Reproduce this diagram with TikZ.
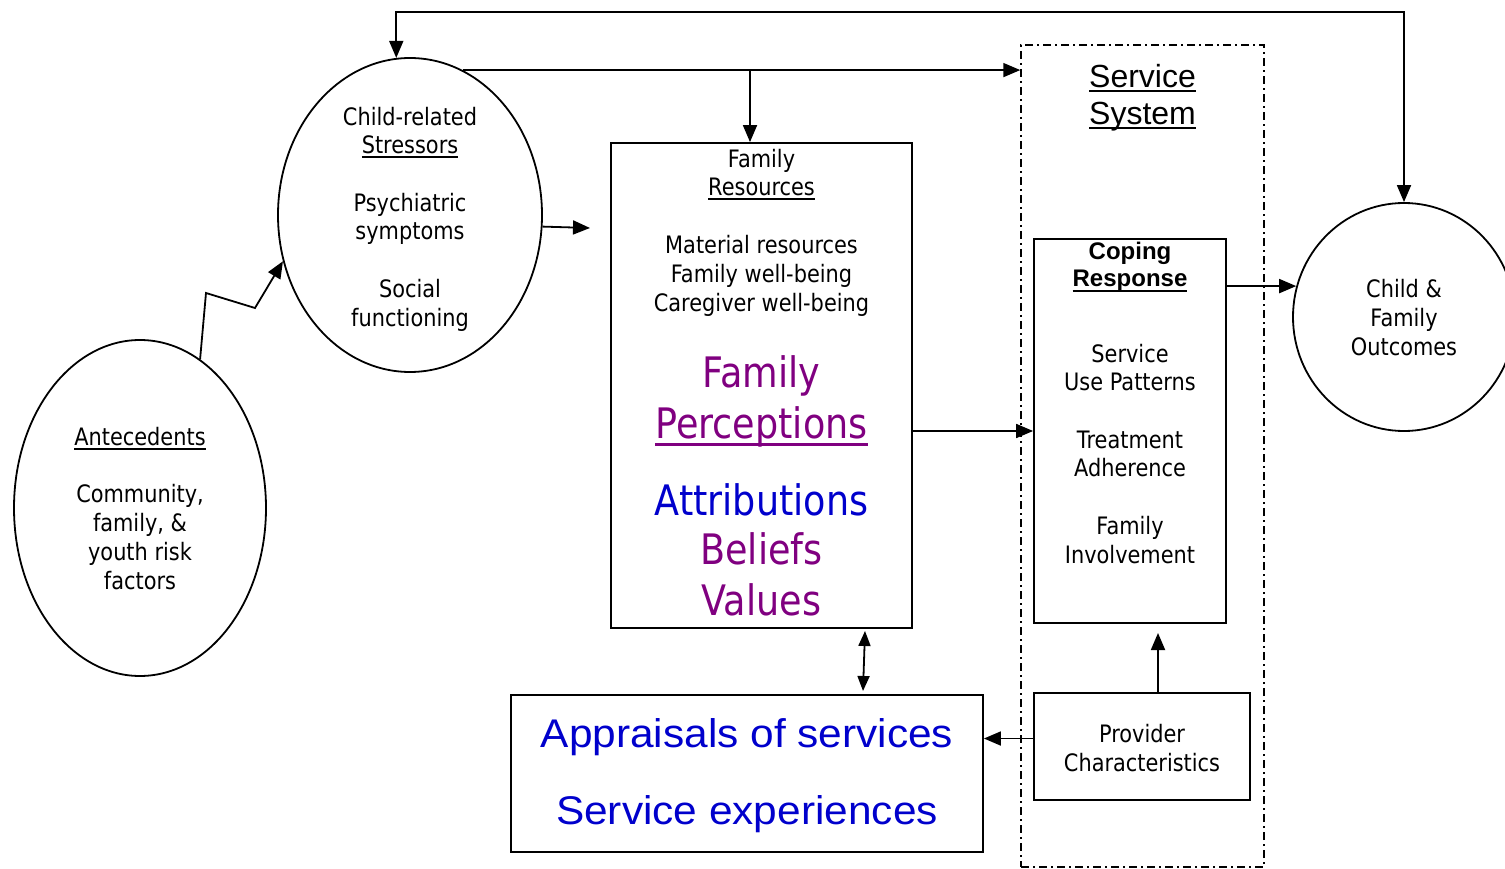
\documentclass[tikz,border=0pt]{standalone}
\usepackage{fontspec}
\setmainfont{DejaVu Sans}[FakeStretch=0.87]
\newfontfamily\arialf{Liberation Sans}
\newfontfamily\arialw{Liberation Sans}[FakeStretch=1.06]
\usetikzlibrary{shapes.geometric,arrows.meta,calc}
\definecolor{pgpurple}{RGB}{128,0,128}
\definecolor{pgblue}{RGB}{0,0,204}
% underline at a fixed drop below the baseline: #1 drop, #2 thickness, #3 text
\newcommand{\ulin}[3]{\setbox0\hbox{#3}\rlap{\rule[-#1]{\wd0}{#2}}\box0}
\tikzset{
  ell/.style={draw, ellipse, line width=1.8pt, inner sep=0pt},
  boxn/.style={draw, rectangle, line width=1.8pt, inner sep=0pt},
  sysbox/.style={draw, rectangle, line width=1.5pt, inner sep=0pt,
    dash pattern=on 8pt off 4pt on 2pt off 4pt},
  % multi-line texts are placed by the baseline of their last line
  txt/.style={align=center, anchor=base, inner sep=0pt,
    font=\fontsize{24}{28.7}\selectfont},
  bigtxt/.style={align=center, anchor=base, inner sep=0pt,
    font=\fontsize{42}{50.5}\selectfont},
  ariatxt/.style={align=center, anchor=base, inner sep=0pt,
    font=\arialw\fontsize{40}{77}\selectfont},
  tip/.style={Triangle[length=17pt,width=14pt]},
  link/.style={line width=1.8pt, -{Triangle[length=17pt,width=14pt]}},
  link2/.style={line width=1.8pt, {Triangle[length=15pt,width=12pt]}-{Triangle[length=15pt,width=12pt]}},
}
\begin{document}
\begin{tikzpicture}[x=1pt,y=-1pt]
\useasboundingbox (0,0) rectangle (1505,869);

% service system frame
\node[sysbox, minimum width=243pt, minimum height=822pt] (sys) at (1142.5,456) {};

% shapes
\node[ell, minimum width=264pt, minimum height=314pt] (stress) at (410,215) {};
\node[ell, minimum width=252pt, minimum height=336pt] (ante) at (140,508) {};
\node[ell, minimum width=222pt, minimum height=228pt] (outc) at (1404,317) {};
\node[boxn, minimum width=301pt, minimum height=485pt] (fam) at (761.5,385.5) {};
\node[boxn, minimum width=192pt, minimum height=384pt] (cope) at (1130,431) {};
\node[boxn, minimum width=216pt, minimum height=107pt] (prov) at (1142,746.5) {};
\node[boxn, minimum width=472pt, minimum height=157pt] (appr) at (747,773.5) {};

% texts
\node[txt] (stresst) at (410,326) {Child-related\\\ulin{4pt}{1.6pt}{Stressors}\\[28.7pt]Psychiatric\\symptoms\\[28.7pt]Social\\functioning};
\node[txt] (antet) at (140,589) {\ulin{4pt}{1.6pt}{Antecedents}\\[28.7pt]Community,\\family, \&\\youth risk\\factors};
\node[txt] (outct) at (1404,355) {Child \&\\Family\\Outcomes};
\node[txt] (famt1) at (761.5,196) {Family\\\ulin{4pt}{1.6pt}{Resources}};
\node[txt] (famt2) at (761.5,311) {Material resources\\Family well-being\\Caregiver well-being};
\node[bigtxt, text=pgpurple] (famt3) at (761.5,438) {Family\\\ulin{7.5pt}{2.4pt}{Perceptions}};
\node[bigtxt, text=pgblue] (famt4) at (761.5,515) {Attributions};
\node[bigtxt, text=pgpurple] (famt5) at (761.5,615) {Beliefs\\Values};
\node[align=center, anchor=base, inner sep=0pt, font=\arialf\fontsize{32}{37}\selectfont] (syst) at (1142.5,125)
  {\ulin{4pt}{2.2pt}{Service}\\\ulin{4pt}{2.2pt}{System}};
\node[align=center, anchor=base, inner sep=0pt, font=\arialf\bfseries\fontsize{24}{27.5}\selectfont] (copet1) at (1130,287)
  {Coping\\\ulin{5pt}{2pt}{Response}};
\node[txt] (copet2) at (1130,563) {Service\\Use Patterns\\[28.7pt]Treatment\\Adherence\\[28.7pt]Family\\Involvement};
\node[txt] (provt) at (1142,771) {Provider\\Characteristics};
\node[ariatxt, text=pgblue] (apprt) at (747,824) {Appraisals of services\\Service experiences};

% connectors
\coordinate (topr) at (1404,12);
\coordinate (branch) at (750,68);
\coordinate (famin) at (590,228);
\coordinate (zig1) at (206,293);
\coordinate (zig2) at (255,308);
\coordinate (provup) at (1158,633);
\coordinate (dtop) at (865,631);
\coordinate (dbot) at (863,691);

\draw[line width=1.8pt, {Triangle[length=17pt,width=14pt]}-{Triangle[length=17pt,width=14pt]}]
  (stress.95) |- (topr) -- (outc.north);
\draw[link] (stress.70) -- (stress.70 -| sys.west);
\draw[link] (branch |- stress.70) -- (branch |- fam.north);
\draw[link] (stress.-5) -- (famin);
\draw[link] (ante.68) -- (zig1) -- (zig2) -- (stress.200);
\draw[link] (cope.west -| fam.east) -- (cope.west);
\draw[link] (outc.164 -| cope.east) -- (outc.164);
\draw[link] (prov.north -| provup) -- (provup);
\draw[link] ($(prov.west)+(0,-8)$) -- ($(prov.west -| appr.east)+(0,-8)$);
\draw[link2] (dtop) -- (dbot);
\end{tikzpicture}
\end{document}
